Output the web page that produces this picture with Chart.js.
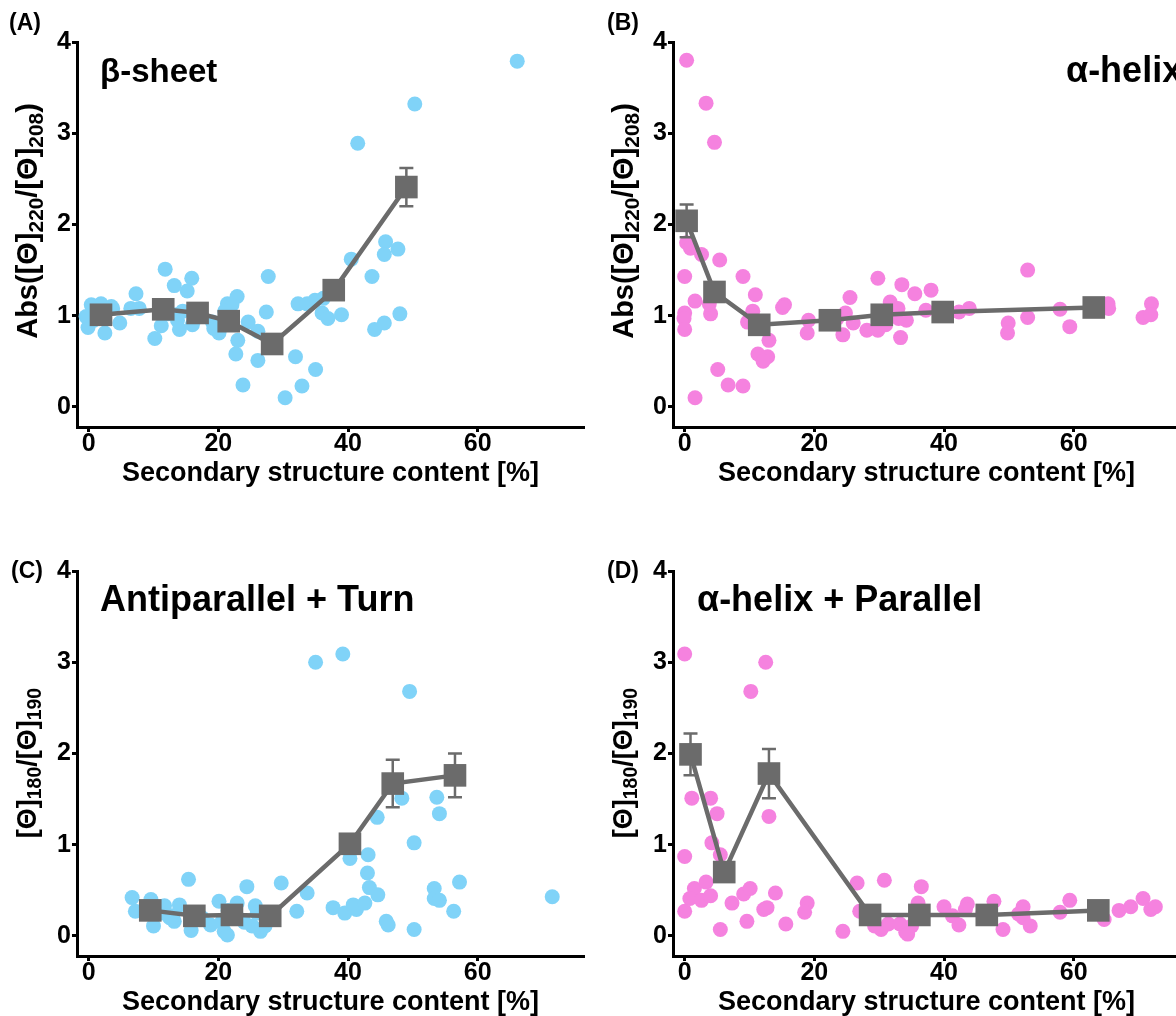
<!DOCTYPE html>
<html><head><meta charset="utf-8">
<script src="https://cdn.jsdelivr.net/npm/chart.js@4.4.1/dist/chart.umd.min.js"></script>
<style>
html,body{margin:0;padding:0;background:#fff;overflow:hidden;width:1176px;height:1016px;}
#wrap{position:relative;width:1176px;height:1016px;overflow:hidden;font-family:"Liberation Sans",Arial,Helvetica,sans-serif;font-weight:bold;color:#000;}
.cv{position:absolute;width:600px;height:500px;}
.lbl{position:absolute;white-space:nowrap;line-height:1;}
.ytitle{position:absolute;white-space:nowrap;line-height:1;transform:translate(-50%,-50%) rotate(-90deg);font-size:27px;}
.ytitle.big{font-size:29px;}
.ytitle sub{font-size:0.72em;vertical-align:-0.3em;line-height:0;}
</style></head>
<body><div id="wrap">
<div class="cv" style="left:0;top:0"><canvas id="cA" width="600" height="500"></canvas></div>
<div class="cv" style="left:596px;top:0"><canvas id="cB" width="600" height="500"></canvas></div>
<div class="cv" style="left:0;top:529px"><canvas id="cC" width="600" height="500"></canvas></div>
<div class="cv" style="left:596px;top:529px"><canvas id="cD" width="600" height="500"></canvas></div>

<div class="lbl" style="left:9px;top:11px;font-size:23px">(A)</div>
<div class="lbl" style="left:607px;top:11px;font-size:23px">(B)</div>
<div class="lbl" style="left:11px;top:559px;font-size:23px">(C)</div>
<div class="lbl" style="left:607px;top:559px;font-size:23px">(D)</div>

<div class="lbl" style="left:100px;top:54px;font-size:33px">β-sheet</div>
<div class="lbl" style="left:1066px;top:52px;font-size:36px">α-helix</div>
<div class="lbl" style="left:100px;top:581px;font-size:36px">Antiparallel + Turn</div>
<div class="lbl" style="left:697px;top:581px;font-size:36px">α-helix + Parallel</div>

<div class="ytitle big" style="left:27px;top:221px">Abs([Θ]<sub>220</sub>/[Θ]<sub>208</sub>)</div>
<div class="ytitle big" style="left:623px;top:221px">Abs([Θ]<sub>220</sub>/[Θ]<sub>208</sub>)</div>
<div class="ytitle" style="left:27px;top:763px">[Θ]<sub>180</sub>/[Θ]<sub>190</sub></div>
<div class="ytitle" style="left:623px;top:763px">[Θ]<sub>180</sub>/[Θ]<sub>190</sub></div>
</div>
<script>
// ---- axis ticks ----
const xTicks = [0, 20, 40, 60];
const yTicks = [0, 1, 2, 3, 4];
const xTitle = 'Secondary structure content [%]';

// ---- Panel A: beta-sheet ----
const aX = [0.4,1.9,-0.1,-0.4,2.5,3.7,4.8,7.3,6.5,7.8,10.2,11.2,11.8,13.2,15.9,15.2,13.5,13.7,14.0,16.0,19.1,19.3,20.1,21.4,22.9,22.1,24.6,23.0,22.7,26.1,26.1,23.8,27.7,27.4,30.3,31.9,32.9,35.0,32.3,33.7,34.9,36.0,36.9,66.1,50.3,41.5,45.8,45.6,47.7,40.5,43.7,39.0,44.1,45.6,48.0,0.8,12.2,16.5,21.0,20.5,36.2,14.5,3.5];
const aY = [1.12,1.13,0.87,0.99,0.81,1.08,0.92,1.24,1.08,1.08,0.75,0.89,1.51,1.33,1.41,1.27,1.01,0.95,0.85,0.90,0.93,0.86,0.81,1.13,1.21,1.12,0.93,0.73,0.58,0.83,0.51,0.24,1.43,1.04,0.10,0.55,0.23,0.41,1.13,1.13,1.17,1.03,0.97,3.79,3.32,2.89,1.81,1.67,1.73,1.62,1.43,1.01,0.85,0.92,1.02,0.95,1.02,0.97,1.05,0.88,1.19,1.05,1.10];
const aMeanX = [1.9, 11.5, 16.8, 21.6, 28.3, 37.8, 49.0];
const aMeanY = [1.01, 1.07, 1.03, 0.94, 0.69, 1.28, 2.41];
const aErr   = [0.05, 0.05, 0.05, 0.05, 0.06, 0.08, 0.21];

// ---- Panel B: alpha-helix ----
const bX = [0.3,3.3,4.6,0.3,0.9,2.6,1.6,4.0,0,5.4,9.0,0,-0.1,0,3.8,5.1,6.7,9.0,1.6,10.9,10.5,9.7,13.0,11.3,12.8,12.1,15.4,15.1,19.1,18.9,25.5,24.8,24.4,26.0,28.1,29.8,29.8,31.7,32.9,33.5,34.2,33.3,35.5,38.0,37.2,42.3,43.9,52.9,49.9,49.8,52.9,57.9,59.4,65.3,65.4,72.0,70.7,71.9,33.0,31.0,23.5,30.5];
const bY = [3.80,3.33,2.90,1.80,1.74,1.67,1.16,1.02,1.43,1.61,1.43,1.03,0.97,0.85,1.13,0.41,0.24,0.23,0.10,1.23,1.05,0.93,0.73,0.58,0.55,0.50,1.12,1.09,0.95,0.81,1.20,1.03,0.79,0.92,0.84,1.41,0.84,1.15,1.08,1.34,0.95,0.76,1.24,1.28,1.06,1.04,1.08,1.50,0.92,0.81,0.98,1.07,0.88,1.13,1.08,1.13,0.98,1.01,0.97,0.90,0.97,0.97];
const bMeanX = [0.3, 4.6, 11.5, 22.4, 30.4, 39.8, 63.1];
const bMeanY = [2.04, 1.26, 0.90, 0.95, 1.01, 1.04, 1.09];
const bErr   = [0.18, 0.08, 0.05, 0.04, 0.04, 0.04, 0.04];

// ---- Panel C: antiparallel + turn ----
const cX = [6.7,7.2,9.6,10.0,11.7,13.2,14.0,15.4,15.8,13.0,18.8,20.1,20.9,21.4,22.9,24.4,25.7,25.2,26.5,27.2,29.7,32.1,33.7,37.7,39.5,40.8,41.3,42.6,40.3,43.1,43.0,43.3,44.6,45.9,46.2,50.2,50.2,44.5,48.3,53.7,54.1,35.0,39.2,49.5,53.3,53.3,54.1,57.2,56.3,71.5,9.0,11.0,16.0,17.5,21.5,23.0,26.0,28.5,20.5,12.5,24.0];
const cY = [0.42,0.27,0.40,0.11,0.33,0.16,0.34,0.62,0.06,0.22,0.12,0.38,0.05,0.01,0.36,0.54,0.33,0.11,0.05,0.11,0.58,0.27,0.47,0.31,0.25,0.34,0.29,0.36,0.85,0.89,0.69,0.53,0.45,0.16,0.12,0.07,1.02,1.30,1.51,1.52,1.34,3.00,3.09,2.68,0.52,0.41,0.39,0.59,0.27,0.43,0.30,0.25,0.25,0.20,0.28,0.20,0.25,0.18,0.15,0.20,0.15];
const cMeanX = [9.5, 16.3, 22.1, 28.0, 40.3, 46.9, 56.5];
const cMeanY = [0.28, 0.22, 0.23, 0.22, 1.01, 1.67, 1.76];
const cErr   = [0.04, 0.04, 0.04, 0.04, 0.08, 0.26, 0.24];

// ---- Panel D: alpha-helix + parallel ----
const dX = [0,12.5,10.2,1.1,4.0,5.0,13.0,4.2,5.5,0,1.5,0.8,3.3,2.6,4.0,0,7.3,5.5,9.1,10.1,9.6,12.2,12.7,14.0,15.6,18.9,18.5,24.4,26.6,30.8,27.0,29.3,30.3,31.4,33.2,34.1,35.0,36.5,36.0,40.0,41.3,42.3,43.6,43.3,47.7,49.1,51.5,52.2,52.2,53.3,57.9,59.4,64.7,67.0,68.8,70.7,71.9,72.6,34.4,28.0,46.0];
const dY = [3.09,3.00,2.68,1.51,1.51,1.34,1.31,1.02,0.89,0.87,0.52,0.41,0.59,0.39,0.44,0.27,0.36,0.07,0.46,0.52,0.16,0.29,0.31,0.47,0.13,0.36,0.26,0.05,0.58,0.61,0.27,0.11,0.07,0.13,0.13,0.04,0.11,0.54,0.36,0.32,0.22,0.12,0.35,0.29,0.38,0.07,0.24,0.32,0.20,0.11,0.26,0.39,0.18,0.28,0.32,0.41,0.29,0.32,0.02,0.20,0.25];
const dMeanX = [0.9, 6.1, 13.0, 28.6, 36.2, 46.6, 63.8];
const dMeanY = [1.99, 0.70, 1.78, 0.23, 0.23, 0.23, 0.28];
const dErr   = [0.23, 0.05, 0.27, 0.04, 0.04, 0.04, 0.04];

const BLUE = '#80d3f8';
const PINK = '#f582df';
const GRAY = '#6b6b6b';
const FONT = '"Liberation Sans", Arial, Helvetica, sans-serif';

const errorBars = {
  id: 'errorBars',
  afterDatasetDraw(chart, args, opts) {
    if (args.index !== 0) return;
    const ds = chart.data.datasets[1];
    const xs = chart.scales.x, ys = chart.scales.y, ctx = chart.ctx;
    ctx.save();
    ctx.strokeStyle = GRAY; ctx.lineWidth = 2.5;
    ds.data.forEach((p, i) => {
      const e = opts.errors[i];
      if (!e) return;
      const px = xs.getPixelForValue(p.x);
      const t = ys.getPixelForValue(p.y + e), b = ys.getPixelForValue(p.y - e);
      ctx.beginPath();
      ctx.moveTo(px, t); ctx.lineTo(px, b);
      ctx.moveTo(px - 7, t); ctx.lineTo(px + 7, t);
      ctx.moveTo(px - 7, b); ctx.lineTo(px + 7, b);
      ctx.stroke();
    });
    ctx.restore();
  }
};

function zip(xs, ys) { return xs.map((x, i) => ({ x: x, y: ys[i] })); }

function makePanel(id, px, py, mx, my, errs, color) {
  new Chart(document.getElementById(id), {
    type: 'scatter',
    data: {
      datasets: [
        { type: 'scatter', data: zip(px, py), backgroundColor: color, borderWidth: 0,
          pointRadius: 7.5, pointHoverRadius: 7.5, order: 1 },
        { type: 'line', data: zip(mx, my), borderColor: GRAY, borderWidth: 4.5,
          backgroundColor: GRAY, pointBackgroundColor: GRAY, pointBorderWidth: 0,
          pointStyle: 'rect', pointRadius: 16, pointHoverRadius: 16,
          showLine: true, fill: false, tension: 0, order: 0 }
      ]
    },
    options: {
      responsive: false, animation: false, events: [],
      layout: { padding: { top: 42, right: 12, bottom: 0, left: 0 } },
      plugins: { legend: { display: false }, tooltip: { enabled: false },
        errorBars: { errors: errs } },
      scales: {
        x: {
          type: 'linear', min: -1.8, max: 76.4,
          afterBuildTicks(s) { s.ticks = xTicks.map(v => ({ value: v })); },
          afterFit(s) { s.height = 73; },
          ticks: { color: '#000', padding: -3, font: { family: FONT, size: 25, weight: 'bold' } },
          grid: { drawOnChartArea: false, drawTicks: true, tickLength: 5, tickWidth: 3, tickColor: '#000' },
          border: { display: true, color: '#000', width: 3 },
          title: { display: true, text: xTitle, color: '#000',
            font: { family: FONT, size: 27, weight: 'bold' }, padding: { top: 0, bottom: 10 } }
        },
        y: {
          type: 'linear', min: -0.22, max: 4,
          afterBuildTicks(s) { s.ticks = yTicks.map(v => ({ value: v })); },
          afterFit(s) { s.width = 77; },
          ticks: { color: '#000', padding: 1, font: { family: FONT, size: 25, weight: 'bold' } },
          grid: { drawOnChartArea: false, drawTicks: true, tickLength: 5, tickWidth: 3, tickColor: '#000' },
          border: { display: true, color: '#000', width: 3 }
        }
      }
    },
    plugins: [errorBars]
  });
}

makePanel('cA', aX, aY, aMeanX, aMeanY, aErr, BLUE);
makePanel('cB', bX, bY, bMeanX, bMeanY, bErr, PINK);
makePanel('cC', cX, cY, cMeanX, cMeanY, cErr, BLUE);
makePanel('cD', dX, dY, dMeanX, dMeanY, dErr, PINK);
</script>
</body></html>
